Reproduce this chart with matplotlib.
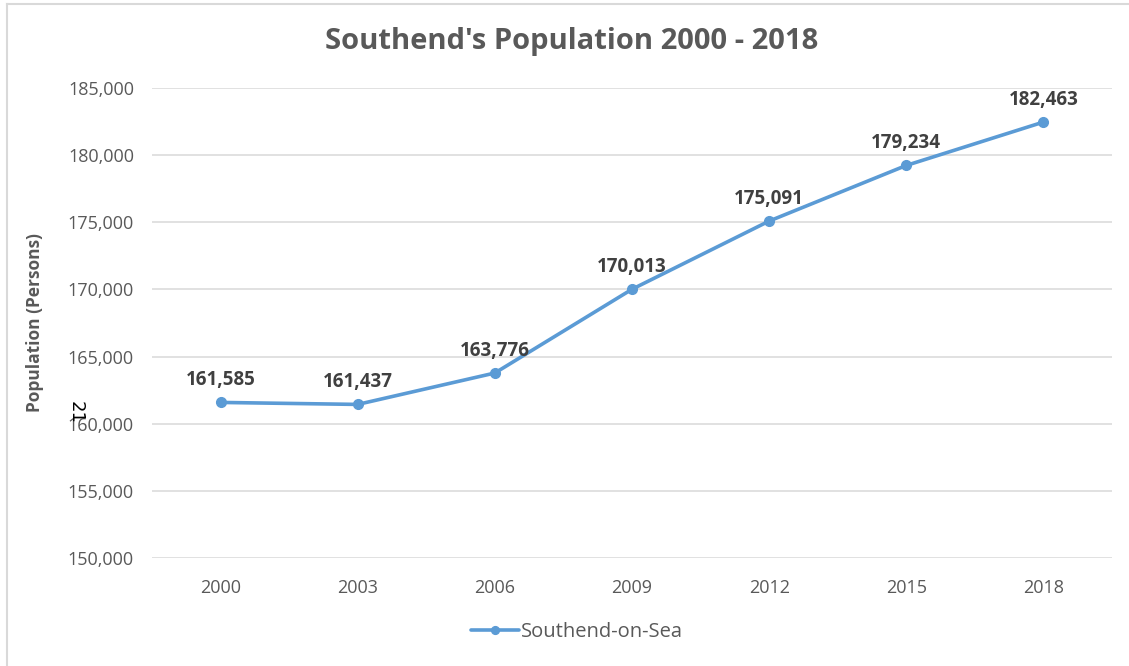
import matplotlib
matplotlib.use("Agg")
import matplotlib.pyplot as plt
from matplotlib.lines import Line2D
from matplotlib.ticker import FuncFormatter

years = ["2000", "2003", "2006", "2009", "2012", "2015", "2018"]
population = [161585, 161437, 163776, 170013, 175091, 179234, 182463]
y_ticks = [150000, 155000, 160000, 165000, 170000, 175000, 180000, 185000]
series_name = "Southend-on-Sea"

W, H = 1129, 666
plt.rcParams["font.family"] = ["Open Sans", "DejaVu Sans"]

fig = plt.figure(figsize=(W / 100, H / 100), dpi=100)
ax = fig.add_axes([152 / W, 1 - 558 / H, (1112 - 152) / W, (558 - 88) / H])

x = list(range(len(years)))
line_color = "#5B9BD5"
ax.plot(x, population, color=line_color, lw=2.6, marker="o", ms=7,
        solid_capstyle="round", label=series_name, zorder=3)

for xi, v in zip(x, population):
    ax.annotate(f"{v:,}", (xi, v), xytext=(0, 9), textcoords="offset points",
                ha="center", va="bottom", fontsize=13.5, fontweight="bold",
                color="#404040", zorder=4)

ax.set_xlim(-0.5, len(years) - 0.5)
ax.set_ylim(150000, 185000)
ax.set_xticks(x)
ax.set_xticklabels(years)
ax.set_yticks(y_ticks)
ax.yaxis.set_major_formatter(FuncFormatter(lambda v, p: f"{int(v):,}"))
ax.grid(axis="y", color="#D9D9D9", lw=1.1)
ax.set_axisbelow(True)
for s in ax.spines.values():
    s.set_visible(False)
ax.tick_params(axis="both", length=0, labelsize=13, labelcolor="#595959")
ax.tick_params(axis="x", pad=15)
ax.tick_params(axis="y", pad=13)

ax.set_ylabel("Population (Persons)", fontsize=12.5, fontweight="bold",
              color="#595959")
ax.yaxis.set_label_coords(-108 / (1112 - 152), 0.5)

fig.text(572 / W, 1 - 42 / H, "Southend's Population 2000 - 2018",
         ha="center", va="center", fontsize=21, fontweight="bold",
         color="#595959")

leg = fig.legend(loc="center", bbox_to_anchor=(577 / W, 1 - 632 / H),
                 frameon=False, fontsize=14.5, handlelength=2.4,
                 handletextpad=0.1, markerscale=0.8)
for t in leg.get_texts():
    t.set_color("#595959")

fig.text(76 / W, 1 - 412 / H, "21", rotation=-90, ha="center", va="center",
         fontsize=13, color="#000000", family=["DejaVu Sans"])

# outer chart frame
fig.add_artist(Line2D([7 / W, 7 / W], [0, 1 - 4 / H], color="#D9D9D9",
                      lw=1.5, transform=fig.transFigure))
fig.add_artist(Line2D([7 / W, 1], [1 - 4 / H, 1 - 4 / H], color="#D9D9D9",
                      lw=1.5, transform=fig.transFigure))

fig.savefig("out.png", dpi=100, facecolor="white")
